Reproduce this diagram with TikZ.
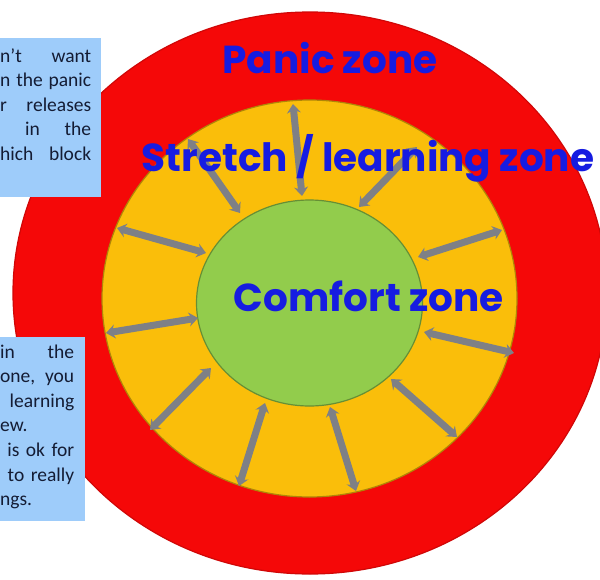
\documentclass[tikz,border=0pt]{standalone}
\usepackage{fontspec}
\setmainfont{Carlito}
\newfontfamily\zonefont{Poppins}
\usetikzlibrary{shapes.geometric,arrows.meta}
\definecolor{panicred}{RGB}{245,8,8}
\definecolor{stretchgold}{RGB}{250,190,10}
\definecolor{comfortgreen}{RGB}{146,204,76}
\definecolor{zoneblue}{RGB}{22,28,225}
\definecolor{notefill}{RGB}{158,204,250}
\definecolor{notetextcol}{RGB}{20,28,52}
\definecolor{arrowgrey}{RGB}{126,128,134}
\tikzset{zone/.style={ellipse,inner sep=0pt,line width=1.2pt}}
\tikzset{panic/.style={zone,fill=panicred,draw=panicred!85!black}}
\tikzset{stretch/.style={zone,fill=stretchgold,draw=stretchgold!70!black}}
\tikzset{comfort/.style={zone,fill=comfortgreen,draw=comfortgreen!70!black}}
\tikzset{zonelabel/.style={text=zoneblue,font=\zonefont\bfseries\fontsize{39}{44}\selectfont}}
\tikzset{notebox/.style={fill=notefill,inner sep=0pt,anchor=north west}}
\tikzset{notetext/.style={inner sep=0pt,anchor=base west,text=notetextcol,font=\fontsize{19.5}{24.6}\selectfont}}
\tikzset{twoway/.style={draw=arrowgrey,line width=7pt,{Stealth[length=9pt,width=14pt]}-{Stealth[length=9pt,width=14pt]}}}

\begin{document}
\begin{tikzpicture}[x=1pt,y=-1pt]
    \useasboundingbox (0,0) rectangle (600,579);

    \node[panic,minimum width=594pt,minimum height=562pt] (panic) at (310,293) {};
    \node[notebox,minimum width=101pt,minimum height=159pt] (topbox) at (0,38) {};
    \node[notebox,minimum width=85pt,minimum height=184pt] (lowbox) at (0,337) {};

    \node[stretch,minimum width=415pt,minimum height=397pt] (stretch) at (309.5,298.5) {};
    \node[comfort,minimum width=226pt,minimum height=206pt] (comfort) at (309.5,303) {};

%   arrows: inner end / outer end
    \foreach \i/\ax/\ay/\bx/\by in {1/302/196/293/104, 2/240/213/188/139, 3/359/207/417/147,
        4/206/253/117/228, 5/418/257/502/230, 6/198/318/106/333, 7/424/332/514/353,
        8/211/368/150/430, 9/391/379/457/437, 10/265/403/239/486, 11/330/407/356/491}
    {
        \coordinate (in\i) at (\ax,\ay);
        \coordinate (out\i) at (\bx,\by);
        \path[twoway] (in\i) -- (out\i);
    }

    \node[zonelabel] (paniclabel) at (330,58) {Panic zone};
    \node[zonelabel] (stretchlabel) at (368,158) {Stretch / learning zone};
    \node[zonelabel] (comfortlabel) at (369,296) {Comfort zone};

    \node[notetext,text width=91pt] (toptext) at (0,62) {%
        n’t\hfill want\\
        n\hfill the\hfill panic\\
        r\hfill releases\\
        \hspace*{0pt}\hfill in\hfill the\\
        hich\hfill block};
    \node[notetext,text width=74pt] (lowtext) at (0,358) {%
        in\hfill the\\
        one,\hfill you\\
        \hspace*{0pt}\hfill learning\\
        ew.\\
        \hspace*{0pt}\hfill is ok for\\
        \hspace*{0pt}\hfill to really\\
        ngs.};
\end{tikzpicture}
\end{document}
